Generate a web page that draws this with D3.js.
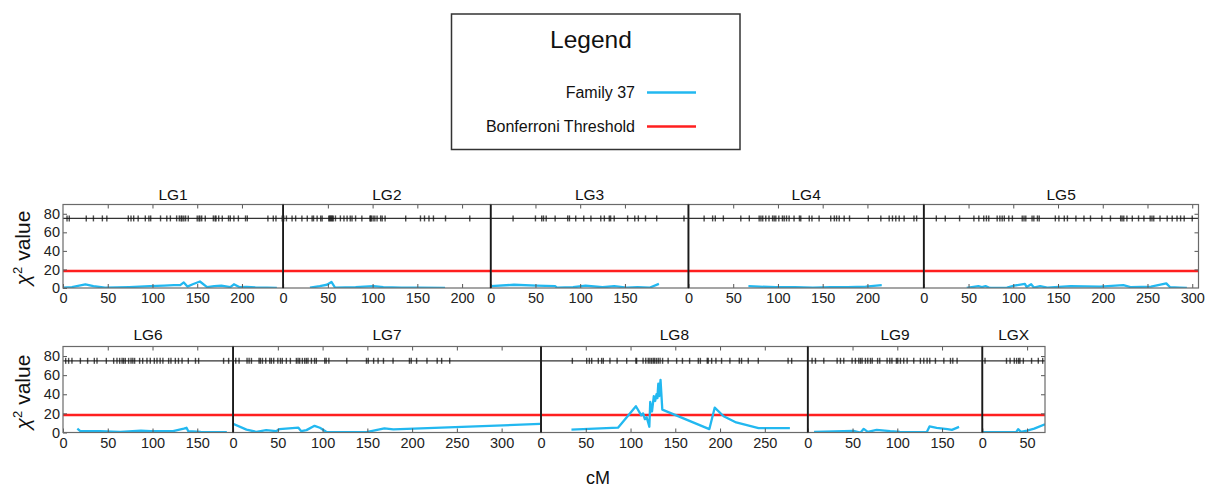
<!DOCTYPE html>
<html><head><meta charset="utf-8">
<script src="https://cdn.jsdelivr.net/npm/d3@7"></script>
<style>body{margin:0;background:#fff} svg{display:block}</style>
</head><body><svg id="c" width="1213" height="491"></svg>
<script>
// ---------------- data ----------------
const groups   = ["LG1","LG2","LG3","LG4","LG5","LG6","LG7","LG8","LG9","LGX"];
const lgLengths = [246, 232, 221, 263, 307, 190, 344, 298, 195, 70];   // cM span of each panel
const tickMax   = [200, 200, 150, 200, 300, 150, 300, 250, 150, 50];   // last labelled x tick
const xTickStep = 50;
const yTicks    = [0, 20, 40, 60, 80];
const yMax      = 90;
const bonferroni = 18.3;
const markerLevel = 75;
const seriesName = "Family 37";
const thresholdName = "Bonferroni Threshold";

const markersLG1 = [4.5,7,26,34,44,49,73,76,79,84,92,96,98,109,116,120,127,130,132,133,135,137,140,150,152,153,155,159,168,170,171,174,178,185,187,191,196,204,206,229,235,238,245];
const markersLG2 = [0.7,3.7,10,14,21,27,32.4,34,38,42,43.6,51,52,53,54,55,56,58.5,64,68,71.5,75,77,81,88,97,98,98.4,100.6,102.5,105,109,110.7,114,137,153.5,158,163,168,181.5,208.6];
const markersLG3 = [25,50,57,59,62,72,86,88,95,104,112,123,127,132.5,134,138,153,161,165,173,185.5,216];
const markersLG4 = [17.5,27,30,39,58.5,68,79,81,83,86.4,90,94,95.8,97.6,101,105,107,109.6,112.5,118,124,125.5,135,138,146,159,163,165.5,168.5,174,180,201,215,224.3,228,231.7,235.5,241,252,255];
const markersLG5 = [14,24,40,56,61.5,67,70,72.6,82,85,87.6,90,95,99,110,112,114,121,123,127,129,147,151,157,160.5,170,179,186.3,199,208.6,220,221.6,223.5,227,233,240,246,253,255,257,264,272,277.6,283,287,291,300];
const markersLG6 = [3,6.3,10,19.4,27.5,35,38,48.4,56.6,60.3,63.3,66,67.7,69.6,73.3,76,78,80,85.6,89,93.8,97.5,102,105,108.5,111.6,118,120.6,125.5,129,133,140,148,151.5,179.4,185];
const markersLG7 = [3,6.7,15.6,17.9,20.5,29,30.5,32.8,36.5,41,42.8,45.4,50,52.9,55,59.5,64,70.7,72.6,74.4,77.4,80,81.9,83.7,87.5,91,93,102.4,104,107,127,149,151,157,162,168,178.7,197,199,205,216.6,228,233,242];
const markersLG8 = [35,51,54,56.6,64,67.7,69.6,77,85,95.7,106,106.8,114,117,119.8,121.6,123.5,125.4,127,129,131,133,135.8,142,151.5,158,166,175.7,178,185.7,186.8,190.6,195.4,201.7,211,221.5,224,231.5,242.7,276,280];
const markersLG9 = [4.8,8.6,17.9,32.8,36.5,40.2,49.5,53.2,57,58.9,60.7,64.4,67,70,72,78,80.4,88.6,91.6,94,99,100.5,103.5,107.2,111,118.4,125.8,129.6,133.3,136.3,142.6,152,159.4,162,166.8];
const markersLGX = [3,27,31,35.7,38.3,40.6,42,45.8,55,62.5,67.4];

const chiLG1 = [[0,0.3],[10,1],[25,4],[34,2],[47,0.3],[74,1],[97,2],[113,2.5],[124,3],[131,3],[135,6],[139,1.5],[145,4],[153,7],[161,1],[169,2],[177,2.5],[187,1],[191,4],[197,1],[205,1.2],[216,0.5],[228,0.5],[239,0]];
const chiLG2 = [[30,0.3],[41,2],[49,3.5],[54,6.5],[58,0.5],[81,1],[101,2],[112,1],[132,0.5],[152,0.3],[181,0.2]];
const chiLG3 = [[0,2],[26,3.5],[51,2.5],[72,2],[74,0.5],[92,0.8],[106,2.5],[125,0.8],[138,2],[152,0.5],[164,1],[178,0.5],[188,4.5]];
const chiLG4 = [[67,2],[79,1.5],[98,0.8],[119,0.8],[139,0.5],[159,0.8],[178,0.8],[198,1.5],[216,3]];
const chiLG5 = [[48,0],[61,2],[65,1],[69,2],[74,0],[93,0.5],[101,2.5],[113,4.5],[115,1],[120,4],[123,0.5],[130,2],[138,0.5],[164,2],[197,1.5],[223,3],[231,1],[254,1.5],[271,5],[275,1],[286,0.5],[294,0]];
const chiLG6 = [[16,4],[19,1.7],[41,1.4],[64,0.7],[87,2],[98,1.4],[123,1.4],[135,4],[138,5],[140,1.4],[154,0.7],[183,0.3]];
const chiLG7 = [[0,9],[15,3],[26,0.7],[37,2.5],[48,1.4],[52,3.6],[73,5],[76,1.4],[82,2.5],[91,7],[97,5],[104,0.7],[149,0.4],[169,4.3],[179,3.2],[343,9]];
const chiLG8 = [[34,3],[86,5],[106,27.5],[112,18],[114,20],[116,14],[118,16],[121,6],[122,32],[124,22],[126,38],[127.5,33],[129,40],[130,36],[131,51],[132,38],[133.5,55],[135.5,24],[188,3.5],[194,26],[204,17],[218,10.5],[243,4.5],[278,4.5]];
const chiLG9 = [[7,0.7],[51,1.7],[59,0],[62.5,3.8],[67,0.7],[77,2.8],[92,1.4],[103,0.7],[133,0.4],[136,6.3],[144,4.9],[156,3.5],[161,2.8],[169,5.9]];
const chiLGX = [[0,0.3],[38,0.7],[40,3.5],[43,0.7],[50,2],[58,4],[70,8.5]];

const markerSets = [markersLG1,markersLG2,markersLG3,markersLG4,markersLG5,markersLG6,markersLG7,markersLG8,markersLG9,markersLGX];
const chiSets = [chiLG1,chiLG2,chiLG3,chiLG4,chiLG5,chiLG6,chiLG7,chiLG8,chiLG9,chiLGX];

// ---------------- layout ----------------
const BLUE = "#22b8f0", RED = "#ff1f1f";
const FONT = "'Liberation Sans', Arial, sans-serif";
const rows = [
  {idx:[0,1,2,3,4], left:63, right:1198.5, top:204.5, bottom:288, titleY:200, ylabY:248},
  {idx:[5,6,7,8,9], left:63, right:1045,   top:346.5, bottom:432.5, titleY:340, ylabY:392}
];

const svg = d3.select("#c");
const defs = svg.append("defs");

rows.forEach((row, ri) => {
  const total = d3.sum(row.idx, i => lgLengths[i]);
  const k = (row.right - row.left) / total;
  const y = d3.scaleLinear().domain([0, yMax]).range([row.bottom, row.top]);
  let cum = 0;
  row.idx.forEach((i, pi) => {
    const x0 = row.left + cum * k;
    const x1 = x0 + lgLengths[i] * k;
    cum += lgLengths[i];
    const x = d3.scaleLinear().domain([0, lgLengths[i]]).range([x0, x1]);
    const g = svg.append("g");
    const cid = "clip" + i;
    defs.append("clipPath").attr("id", cid).append("rect")
      .attr("x", x0).attr("y", row.top).attr("width", x1 - x0).attr("height", row.bottom - row.top);
    const plot = g.append("g").attr("clip-path", `url(#${cid})`);

    // marker line + ticks
    plot.append("line").attr("x1", x0).attr("x2", x1)
      .attr("y1", y(markerLevel)).attr("y2", y(markerLevel))
      .attr("stroke", "#333").attr("stroke-width", 1.4);
    plot.selectAll("line.mk").data(markerSets[i]).join("line").attr("class","mk")
      .attr("x1", d => x(d)).attr("x2", d => x(d))
      .attr("y1", y(markerLevel) - 3).attr("y2", y(markerLevel) + 3)
      .attr("stroke", "#111").attr("stroke-width", 1.4).attr("opacity", 0.75);

    // threshold
    plot.append("line").attr("x1", x0).attr("x2", x1)
      .attr("y1", y(bonferroni)).attr("y2", y(bonferroni))
      .attr("stroke", RED).attr("stroke-width", 2.6);

    // chi-square series
    plot.append("path").datum(chiSets[i])
      .attr("d", d3.line().x(d => x(d[0])).y(d => y(d[1])))
      .attr("fill", "none").attr("stroke", BLUE).attr("stroke-width", 2.3)
      .attr("stroke-linejoin", "round");

    // axes
    const xt = d3.range(0, tickMax[i] + 1, xTickStep);
    const ax = g.append("g").attr("transform", `translate(0,${row.bottom})`)
      .call(d3.axisBottom(x).tickValues(xt).tickSize(-4).tickPadding(5).tickFormat(d3.format("d")));
    ax.select(".domain").remove();
    ax.selectAll("text").attr("font-family", FONT).attr("font-size", 14.5).attr("fill", "#222");
    ax.selectAll("line").attr("stroke", "#555");
    const axt = g.append("g").attr("transform", `translate(0,${row.top})`)
      .call(d3.axisTop(x).tickValues(xt.filter(v => v > 0)).tickSize(-4).tickFormat(""));
    axt.select(".domain").remove();
    axt.selectAll("line").attr("stroke", "#555");

    if (pi === 0) {
      const ay = g.append("g").attr("transform", `translate(${x0},0)`)
        .call(d3.axisLeft(y).tickValues(yTicks).tickSize(-4).tickPadding(3));
      ay.select(".domain").remove();
      ay.selectAll("text").attr("font-family", FONT).attr("font-size", 14.5).attr("fill", "#222");
      ay.selectAll("line").attr("stroke", "#555");
    }
    if (pi === row.idx.length - 1) {
      const ayr = g.append("g").attr("transform", `translate(${x1},0)`)
        .call(d3.axisRight(y).tickValues(yTicks.filter(v => v > 0)).tickSize(-4).tickFormat(""));
      ayr.select(".domain").remove();
      ayr.selectAll("line").attr("stroke", "#555");
    }

    // frame
    g.append("rect").attr("x", x0).attr("y", row.top).attr("width", x1 - x0).attr("height", row.bottom - row.top)
      .attr("fill", "none").attr("stroke", "#6a6a6a").attr("stroke-width", 1.2);
    if (pi > 0) {
      g.append("line").attr("x1", x0).attr("x2", x0).attr("y1", row.top).attr("y2", row.bottom)
        .attr("stroke", "#1a1a1a").attr("stroke-width", 1.8);
    }

    // title
    svg.append("text").attr("x", (x0 + x1) / 2).attr("y", row.titleY)
      .attr("text-anchor", "middle").attr("font-family", FONT).attr("font-size", 15.5)
      .attr("fill", "#111").text(groups[i]);
  });

  // y label
  const yl = svg.append("text").attr("transform", `translate(30,${row.ylabY}) rotate(-90)`)
    .attr("text-anchor", "middle").attr("font-family", FONT).attr("font-size", 21).attr("fill", "#111");
  yl.append("tspan").attr("font-style", "italic").text("χ");
  yl.append("tspan").attr("font-size", 13).attr("dy", -8).text("2");
  yl.append("tspan").attr("dy", 8).text(" value");
});

// x label
svg.append("text").attr("x", 598).attr("y", 484).attr("text-anchor", "middle")
  .attr("font-family", FONT).attr("font-size", 18).attr("fill", "#111").text("cM");

// legend
const lg = svg.append("g");
lg.append("rect").attr("x", 451.5).attr("y", 14).attr("width", 288.5).attr("height", 135.5)
  .attr("fill", "#fff").attr("stroke", "#333").attr("stroke-width", 1.5);
lg.append("text").attr("x", 591).attr("y", 48).attr("text-anchor", "middle")
  .attr("font-family", FONT).attr("font-size", 24.5).attr("fill", "#111").text("Legend");
const legendItems = [{name: seriesName, color: BLUE, y: 92.5}, {name: thresholdName, color: RED, y: 126.5}];
legendItems.forEach(it => {
  lg.append("text").attr("x", 635).attr("y", it.y + 5.5).attr("text-anchor", "end")
    .attr("font-family", FONT).attr("font-size", 16).attr("fill", "#111").text(it.name);
  lg.append("line").attr("x1", 647).attr("x2", 696).attr("y1", it.y).attr("y2", it.y)
    .attr("stroke", it.color).attr("stroke-width", 2.6);
});
</script></body></html>
